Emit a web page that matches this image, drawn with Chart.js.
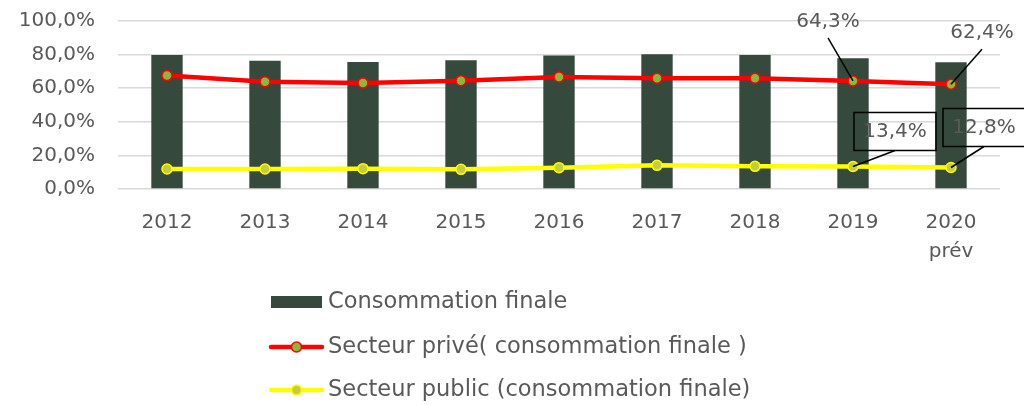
<!DOCTYPE html>
<html lang="fr">
<head>
    <meta charset="UTF-8">
    <title>Consommation finale</title>
    <style>
        html, body {
            margin: 0;
            padding: 0;
            background: #ffffff;
        }

        .chart-box {
            position: relative;
            width: 1024px;
            height: 405px;
        }
    </style>
    <script src="https://cdn.jsdelivr.net/npm/chart.js"></script>
</head>
<body>
<div class="chart-box">
    <canvas id="consoChart"></canvas>
</div>

<script>
    // values (share of GDP, %)
    const years = ['2012', '2013', '2014', '2015', '2016', '2017', '2018', '2019', ['2020', 'prév']];
    const consoFinale = [79.8, 76.4, 75.6, 76.6, 79.4, 80.2, 79.8, 77.8, 75.4];
    const secteurPrive = [67.5, 63.9, 63.1, 64.5, 66.7, 65.9, 65.9, 64.3, 62.4];
    const secteurPublic = [11.9, 11.9, 12.1, 11.7, 12.7, 14.1, 13.5, 13.4, 12.8];
    const yTicks = [0, 20, 40, 60, 80, 100];
    const seriesNames = ['Consommation finale', 'Secteur privé( consommation finale )', 'Secteur public (consommation finale)'];

    const textColor = '#595959';
    const fontFamily = '"DejaVu Sans", sans-serif';

    function frPct(v) {
        return v.toFixed(1).replace('.', ',') + '%';
    }

    // labels shown only on the last two points, like the original
    const labelOffsets = {
        1: {7: {dx: -25, dy: -59, box: false}, 8: {dx: 31, dy: -51, box: false}},
        2: {7: {dx: 42, dy: -35, box: true}, 8: {dx: 33, dy: -40, box: true}}
    };

    const pointLabels = {
        id: 'pointLabels',
        afterDatasetsDraw(chart) {
            const ctx = chart.ctx;
            ctx.save();
            ctx.font = '20px ' + fontFamily;
            ctx.textAlign = 'center';
            ctx.textBaseline = 'middle';
            Object.keys(labelOffsets).forEach(dsIndex => {
                const meta = chart.getDatasetMeta(dsIndex);
                const values = chart.data.datasets[dsIndex].data;
                Object.keys(labelOffsets[dsIndex]).forEach(i => {
                    const pt = meta.data[i];
                    const o = labelOffsets[dsIndex][i];
                    const tx = pt.x + o.dx;
                    const ty = pt.y + o.dy;
                    // leader line
                    ctx.strokeStyle = '#000000';
                    ctx.lineWidth = 1.5;
                    ctx.beginPath();
                    if (o.box) {
                        ctx.moveTo(tx, ty + 19);
                    } else {
                        ctx.moveTo(tx, ty + 16);
                    }
                    ctx.lineTo(pt.x, pt.y);
                    ctx.stroke();
                    if (o.box) {
                        ctx.lineWidth = 1.5;
                        ctx.strokeRect(tx - 41, ty - 19, 82, 38);
                    }
                    ctx.fillStyle = textColor;
                    ctx.fillText(frPct(values[i]), tx, ty);
                });
            });
            ctx.restore();
        }
    };

    // stacked legend under the plot
    const stackedLegend = {
        id: 'stackedLegend',
        afterDraw(chart) {
            const ctx = chart.ctx;
            const rows = [302, 347, 390];
            const x0 = 271;
            ctx.save();
            ctx.font = '22.5px ' + fontFamily;
            ctx.textAlign = 'left';
            ctx.textBaseline = 'middle';
            chart.data.datasets.forEach((ds, i) => {
                const y = rows[i];
                if (ds.type === 'bar') {
                    ctx.fillStyle = ds.backgroundColor;
                    ctx.fillRect(x0, y - 6, 51, 12);
                } else {
                    ctx.strokeStyle = ds.borderColor;
                    ctx.lineWidth = ds.borderWidth;
                    ctx.lineCap = 'round';
                    ctx.beginPath();
                    ctx.moveTo(x0, y);
                    ctx.lineTo(x0 + 51, y);
                    ctx.stroke();
                    ctx.beginPath();
                    ctx.arc(x0 + 25.5, y, 5, 0, Math.PI * 2);
                    ctx.fillStyle = ds.pointBackgroundColor;
                    ctx.fill();
                    ctx.lineWidth = 1.5;
                    ctx.strokeStyle = ds.pointBorderColor;
                    ctx.stroke();
                }
                ctx.fillStyle = textColor;
                ctx.fillText(ds.label, x0 + 57, y);
            });
            ctx.restore();
        }
    };

    const ctx = document.getElementById('consoChart').getContext('2d');
    new Chart(ctx, {
        data: {
            labels: years,
            datasets: [
                {
                    type: 'bar',
                    label: seriesNames[0],
                    data: consoFinale,
                    backgroundColor: '#36493D',
                    barPercentage: 0.32,
                    categoryPercentage: 1,
                    order: 3
                },
                {
                    type: 'line',
                    label: seriesNames[1],
                    data: secteurPrive,
                    borderColor: '#FF0000',
                    borderWidth: 4.5,
                    pointRadius: 5,
                    pointBorderWidth: 1.5,
                    pointBackgroundColor: '#8AB83A',
                    pointBorderColor: '#FF0000',
                    order: 2
                },
                {
                    type: 'line',
                    label: seriesNames[2],
                    data: secteurPublic,
                    borderColor: '#FFFF00',
                    borderWidth: 4.5,
                    pointRadius: 5,
                    pointBorderWidth: 1.5,
                    pointBackgroundColor: '#C6CC3C',
                    pointBorderColor: '#FFFF00',
                    order: 1
                }
            ]
        },
        options: {
            responsive: true,
            maintainAspectRatio: false,
            animation: false,
            layout: {
                padding: {top: 21, right: 24, bottom: 136, left: 0}
            },
            plugins: {
                legend: {display: false},
                tooltip: {enabled: false}
            },
            scales: {
                x: {
                    grid: {display: false},
                    border: {display: false},
                    ticks: {
                        color: textColor,
                        font: {family: fontFamily, size: 20, lineHeight: 1.45},
                        padding: 11,
                        maxRotation: 0
                    },
                    afterFit(scale) {
                        scale.height = 80;
                    }
                },
                y: {
                    min: 0,
                    max: 100,
                    afterBuildTicks(scale) {
                        scale.ticks = yTicks.map(v => ({value: v}));
                    },
                    grid: {
                        color: '#D9D9D9',
                        lineWidth: 1.5,
                        drawTicks: true,
                        tickLength: 23,
                        tickColor: 'rgba(0,0,0,0)'
                    },
                    border: {display: false},
                    ticks: {
                        color: textColor,
                        font: {family: fontFamily, size: 20},
                        padding: 0,
                        callback: v => frPct(v)
                    },
                    afterFit(scale) {
                        scale.width = 118;
                    }
                }
            }
        },
        plugins: [pointLabels, stackedLegend]
    });
</script>

</body>
</html>
